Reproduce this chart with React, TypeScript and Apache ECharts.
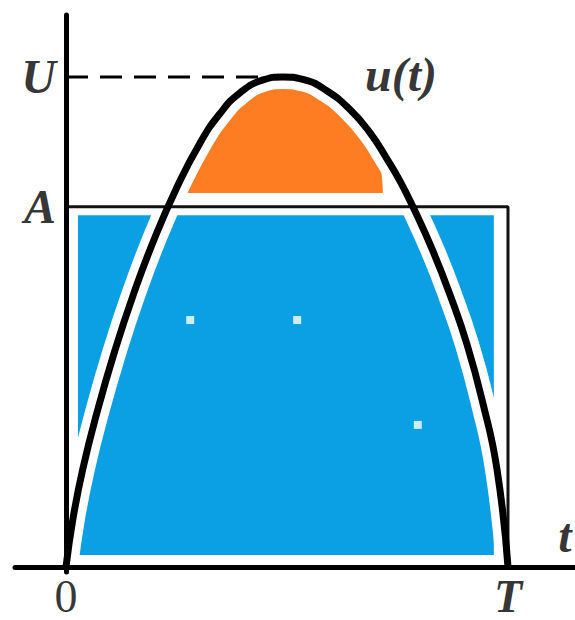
import React, { useEffect, useRef } from "react";
import * as echarts from "echarts";

// Curve u(t) (t in units of T, u in units of U)
const curveT = [0, 0.016, 0.038, 0.07, 0.11, 0.152, 0.2, 0.251, 0.303, 0.348, 0.394, 0.446, 0.49, 0.536, 0.59, 0.643, 0.688, 0.726, 0.756, 0.785, 0.83, 0.869, 0.907, 0.943, 0.975, 1.0];
const curveU = [0, 0.1, 0.2, 0.315, 0.44, 0.555, 0.67, 0.775, 0.865, 0.925, 0.968, 0.994, 1.0, 0.995, 0.972, 0.933, 0.886, 0.833, 0.787, 0.735, 0.645, 0.555, 0.455, 0.335, 0.2, 0];

// Orange region outline (above level A)
const orangeT = [0.269, 0.276, 0.314, 0.353, 0.405, 0.455, 0.536, 0.597, 0.643, 0.683, 0.71, 0.717];
const orangeU = [0.763, 0.831, 0.892, 0.943, 0.973, 0.988, 0.988, 0.963, 0.922, 0.871, 0.82, 0.763];
const orangeBase = 0.763;

// Blue rectangle (below level A)
const blueT = [0.027, 0.968];
const blueTop = 0.718;
const blueBase = 0.0245;

// Levels
const levelA = 0.735;
const levelU = 1.0;
const periodT = 1.0;
const peakT = 0.49;

// White specks
const speckT = [0.281, 0.523, 0.796];
const speckU = [0.504, 0.504, 0.29];

// Tick labels
const xTickValues = [0, 1];
const xTickLabels = ["0", "T"];
const yTickValues = [0.735, 1];
const yTickLabels = ["A", "U"];

const SERIF = "'Liberation Serif', 'DejaVu Serif', serif";

export default function App() {
  const ref = useRef<HTMLDivElement>(null);
  useEffect(() => {
    if (!ref.current) return;
    const chart = echarts.init(ref.current, null, { renderer: "svg" });
    const curve = curveT.map((t, i) => [t, curveU[i]]);
    const orange = orangeT.map((t, i) => [t, orangeU[i]]);
    const blue = blueT.map((t) => [t, blueTop]);
    const specks = speckT.map((t, i) => [t, speckU[i]]);
    const italicBold = {
      fontFamily: SERIF,
      fontSize: 48,
      fontWeight: "bold",
      fontStyle: "italic",
      color: "#000",
    };
    const labelData: any[] = [];
    yTickValues.forEach((v, i) => {
      labelData.push({
        value: [0, v],
        name: yTickLabels[i],
        label: { position: "left", distance: 10, ...italicBold },
      });
    });
    xTickValues.forEach((v, i) => {
      const upright = xTickLabels[i] === "0";
      labelData.push({
        value: [v, 0],
        name: xTickLabels[i],
        label: upright
          ? { position: "bottom", distance: 6, fontFamily: SERIF, fontSize: 46, lineHeight: 46, fontWeight: "normal", fontStyle: "normal", color: "#000" }
          : { position: "bottom", distance: 6, ...italicBold, fontSize: 46, lineHeight: 46 },
      });
    });
    labelData.push({ value: [0.758, 1.006], name: "u(t)", label: { position: "inside", ...italicBold } });
    labelData.push({ value: [1.129, 0.065], name: "t", label: { position: "inside", ...italicBold } });

    chart.setOption({
      animation: false,
      backgroundColor: "#ffffff",
      grid: { left: 15, top: 15, width: 560, height: 557, containLabel: false, outerBoundsMode: "none" },
      xAxis: {
        type: "value",
        min: -0.1154,
        max: 1.1516,
        z: 5,
        splitLine: { show: false },
        axisTick: { show: false },
        axisLabel: { show: false },
        axisLine: { onZero: true, lineStyle: { color: "#000", width: 5 } },
      },
      yAxis: {
        type: "value",
        min: -0.0102,
        max: 1.1265,
        z: 5,
        splitLine: { show: false },
        axisTick: { show: false },
        axisLabel: { show: false },
        axisLine: { onZero: true, lineStyle: { color: "#000", width: 5 } },
      },
      series: [
        {
          type: "line",
          data: blue,
          showSymbol: false,
          lineStyle: { width: 0 },
          areaStyle: { color: "#0aa0e3", opacity: 1, origin: blueBase },
          z: 1,
          silent: true,
        },
        {
          type: "line",
          data: orange,
          smooth: 0.4,
          showSymbol: false,
          lineStyle: { width: 0 },
          areaStyle: { color: "#ff7d22", opacity: 1, origin: orangeBase },
          z: 1,
          silent: true,
        },
        {
          type: "scatter",
          data: specks,
          symbol: "rect",
          symbolSize: 8,
          itemStyle: { color: "#ffffff" },
          z: 2,
          silent: true,
        },
        {
          type: "line",
          data: curve,
          smooth: 0.5,
          showSymbol: false,
          lineStyle: { color: "#ffffff", width: 24 },
          z: 2,
          silent: true,
        },
        {
          type: "line",
          data: [[0, levelA], [periodT, levelA], [periodT, 0]],
          showSymbol: false,
          lineStyle: { color: "#111", width: 3 },
          z: 3,
          silent: true,
        },
        {
          type: "line",
          data: [[0, levelU], [peakT, levelU]],
          showSymbol: false,
          lineStyle: { color: "#000", width: 3, type: [22, 12] },
          z: 4,
          silent: true,
        },
        {
          type: "line",
          data: curve,
          smooth: 0.5,
          showSymbol: false,
          lineStyle: { color: "#000", width: 7 },
          z: 4,
          silent: true,
        },
        {
          type: "scatter",
          data: labelData,
          symbolSize: 0,
          z: 6,
          silent: true,
          label: {
            show: true,
            formatter: (p: any) => p.name,
          },
        },
      ],
    });
    return () => chart.dispose();
  }, []);
  return (
    <div
      ref={ref}
      style={{ position: "fixed", left: 0, top: 0, width: 575, height: 620, background: "#fff" }}
    />
  );
}
